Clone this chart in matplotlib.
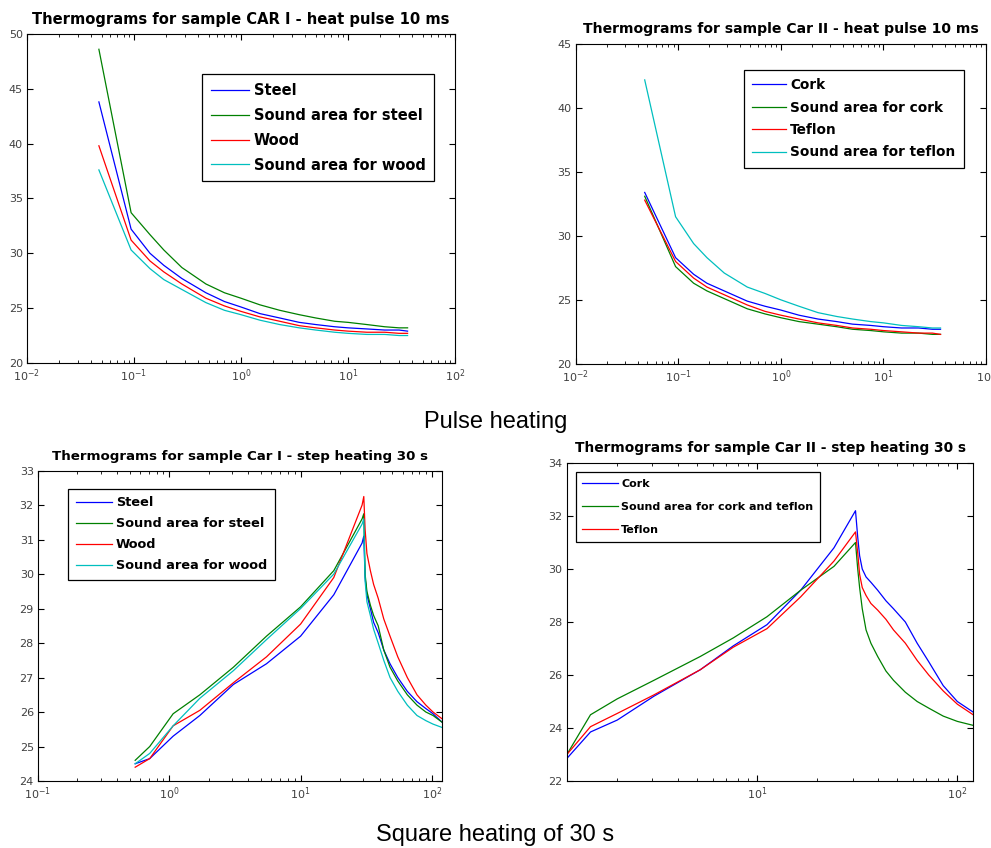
import numpy as np
import matplotlib.pyplot as plt

plt.rcParams['font.family'] = 'DejaVu Sans'
plt.rcParams['mathtext.default'] = 'regular'

# ---- pulse heating, sample CAR I ----
t_pulse = [0.047, 0.094, 0.141, 0.19, 0.28, 0.47, 0.7, 1.0, 1.5, 2.3, 3.5, 5, 7.5, 10, 15, 22, 30, 36]
car1_steel = [43.8, 32.2, 30.0, 28.9, 27.7, 26.4, 25.6, 25.1, 24.5, 24.1, 23.7, 23.5, 23.3, 23.2, 23.1, 23.0, 23.0, 22.9]
car1_sound_steel = [48.6, 33.7, 31.7, 30.3, 28.7, 27.2, 26.4, 25.9, 25.3, 24.8, 24.4, 24.1, 23.8, 23.7, 23.5, 23.3, 23.2, 23.2]
car1_wood = [39.8, 31.2, 29.3, 28.3, 27.2, 25.9, 25.2, 24.7, 24.2, 23.8, 23.4, 23.2, 23.0, 22.9, 22.8, 22.8, 22.7, 22.7]
car1_sound_wood = [37.6, 30.3, 28.6, 27.6, 26.7, 25.5, 24.8, 24.4, 23.9, 23.5, 23.2, 23.0, 22.8, 22.7, 22.6, 22.6, 22.5, 22.5]

# ---- pulse heating, sample CAR II ----
car2_cork = [33.4, 28.3, 27.0, 26.3, 25.7, 24.9, 24.5, 24.2, 23.8, 23.5, 23.3, 23.1, 23.0, 22.9, 22.8, 22.8, 22.7, 22.7]
car2_sound_cork = [33.1, 27.6, 26.3, 25.7, 25.1, 24.3, 23.9, 23.6, 23.3, 23.1, 22.9, 22.7, 22.6, 22.5, 22.4, 22.4, 22.3, 22.3]
car2_teflon = [32.8, 28.0, 26.7, 26.0, 25.4, 24.6, 24.1, 23.8, 23.5, 23.2, 23.0, 22.8, 22.7, 22.6, 22.5, 22.4, 22.4, 22.3]
car2_sound_teflon = [42.2, 31.5, 29.4, 28.3, 27.1, 26.0, 25.5, 25.0, 24.5, 24.0, 23.7, 23.5, 23.3, 23.2, 23.0, 22.9, 22.8, 22.8]

# ---- step heating 30 s, sample Car I ----
t_step1 = [0.55, 0.71, 1.07, 1.71, 3.08, 5.5, 10.0, 17.9, 29.4, 30.3, 31, 32, 34, 36,
           39, 43, 48, 55, 65, 77, 90, 102, 120]
step1_steel = [24.5, 24.65, 25.3, 25.9, 26.8, 27.4, 28.2, 29.4, 30.9, 31.1, 29.9, 29.4, 29.0, 28.6,
               28.3, 27.8, 27.4, 27.0, 26.6, 26.3, 26.1, 25.95, 25.7]
step1_sound_steel = [24.6, 25.0, 25.95, 26.5, 27.3, 28.2, 29.05, 30.1, 31.6, 31.75, 30.0, 29.5, 29.1, 28.8,
                     28.5, 27.8, 27.3, 26.9, 26.5, 26.2, 26.0, 25.9, 25.7]
step1_wood = [24.4, 24.65, 25.6, 26.05, 26.85, 27.6, 28.55, 29.9, 32.0, 32.25, 31.3, 30.6, 30.1, 29.7,
              29.3, 28.7, 28.2, 27.6, 27.0, 26.5, 26.2, 26.0, 25.8]
step1_sound_wood = [24.5, 24.8, 25.6, 26.4, 27.2, 28.1, 29.0, 30.0, 31.45, 31.6, 29.8, 29.2, 28.8, 28.4,
                    28.0, 27.5, 27.0, 26.6, 26.2, 25.9, 25.75, 25.65, 25.55]

# ---- step heating 30 s, sample Car II ----
t_step2 = [1.12, 1.47, 2.0, 3.05, 5.2, 7.6, 11.2, 16.5, 24.2, 31.0, 31.8, 32.5, 33.5, 35,
           37, 40, 44, 48, 55, 63, 72, 85, 100, 120]
step2_cork = [22.85, 23.85, 24.3, 25.2, 26.2, 27.1, 27.9, 29.2, 30.8, 32.2, 31.2, 30.5, 30.0, 29.7,
              29.5, 29.2, 28.8, 28.5, 28.0, 27.2, 26.5, 25.6, 25.0, 24.6]
step2_sound = [23.0, 24.5, 25.1, 25.8, 26.7, 27.4, 28.2, 29.2, 30.1, 31.0, 30.0, 29.3, 28.5, 27.7,
               27.2, 26.7, 26.15, 25.8, 25.35, 25.0, 24.75, 24.45, 24.25, 24.1]
step2_teflon = [23.0, 24.05, 24.55, 25.25, 26.2, 27.05, 27.75, 28.95, 30.3, 31.4, 30.6, 29.8, 29.3, 29.0,
                28.7, 28.45, 28.1, 27.7, 27.2, 26.55, 26.0, 25.4, 24.9, 24.5]

BLUE = (0, 0, 1)
GREEN = (0, 0.5, 0)
RED = (1, 0, 0)
CYAN = (0, 0.75, 0.75)


def style_axes(ax):
    ax.set_xscale('log')
    ax.tick_params(which='both', direction='in', top=True, right=True,
                   labelsize=8, labelcolor='0.25', pad=3)
    ax.tick_params(which='major', length=4, width=0.8)
    ax.tick_params(which='minor', length=2.5, width=0.6)
    for s in ax.spines.values():
        s.set_linewidth(0.8)


def add_legend(ax, anchor, size, hlen, spacing):
    leg = ax.legend(loc='upper left', bbox_to_anchor=anchor, prop={'weight': 'bold', 'size': size},
                    frameon=True, fancybox=False, framealpha=1, edgecolor='black',
                    handlelength=hlen, handletextpad=0.3, labelspacing=spacing,
                    borderpad=0.6, borderaxespad=0)
    leg.get_frame().set_linewidth(0.9)
    return leg


fig = plt.figure(figsize=(9.91, 8.48), dpi=100)

# top left
ax1 = fig.add_axes([0.0272, 0.572, 0.432, 0.388])
style_axes(ax1)
ax1.plot(t_pulse, car1_steel, color=BLUE, lw=0.9, label='Steel')
ax1.plot(t_pulse, car1_sound_steel, color=GREEN, lw=0.9, label='Sound area for steel')
ax1.plot(t_pulse, car1_wood, color=RED, lw=0.9, label='Wood')
ax1.plot(t_pulse, car1_sound_wood, color=CYAN, lw=0.9, label='Sound area for wood')
ax1.set_xlim(1e-2, 1e2)
ax1.set_ylim(20, 50)
ax1.set_yticks(np.arange(20, 51, 5))
ax1.set_title('Thermograms for sample CAR I - heat pulse 10 ms', fontsize=10.6, fontweight='bold', pad=7)
add_legend(ax1, (0.41, 0.878), 10.5, 2.6, 0.68)

# top right
ax2 = fig.add_axes([0.581, 0.571, 0.414, 0.377])
style_axes(ax2)
ax2.plot(t_pulse, car2_cork, color=BLUE, lw=0.9, label='Cork')
ax2.plot(t_pulse, car2_sound_cork, color=GREEN, lw=0.9, label='Sound area for cork')
ax2.plot(t_pulse, car2_teflon, color=RED, lw=0.9, label='Teflon')
ax2.plot(t_pulse, car2_sound_teflon, color=CYAN, lw=0.9, label='Sound area for teflon')
ax2.set_xlim(1e-2, 1e2)
ax2.set_ylim(20, 45)
ax2.set_yticks(np.arange(20, 46, 5))
ax2.set_title('Thermograms for sample Car II - heat pulse 10 ms', fontsize=10.1, fontweight='bold', pad=8)
add_legend(ax2, (0.41, 0.919), 9.8, 2.5, 0.62)

# bottom left
ax3 = fig.add_axes([0.0383, 0.079, 0.408, 0.366])
style_axes(ax3)
ax3.plot(t_step1, step1_steel, color=BLUE, lw=0.9, label='Steel')
ax3.plot(t_step1, step1_sound_steel, color=GREEN, lw=0.9, label='Sound area for steel')
ax3.plot(t_step1, step1_wood, color=RED, lw=0.9, label='Wood')
ax3.plot(t_step1, step1_sound_wood, color=CYAN, lw=0.9, label='Sound area for wood')
ax3.set_xlim(1e-1, 120)
ax3.set_ylim(24, 33)
ax3.set_yticks(np.arange(24, 34, 1))
ax3.set_title('Thermograms for sample Car I - step heating 30 s', fontsize=9.6, fontweight='bold', pad=8)
add_legend(ax3, (0.074, 0.942), 9.3, 2.8, 0.62)

# bottom right
ax4 = fig.add_axes([0.572, 0.079, 0.410, 0.375])
style_axes(ax4)
ax4.plot(t_step2, step2_cork, color=BLUE, lw=0.9, label='Cork')
ax4.plot(t_step2, step2_sound, color=GREEN, lw=0.9, label='Sound area for cork and teflon')
ax4.plot(t_step2, step2_teflon, color=RED, lw=0.9, label='Teflon')
ax4.set_xlim(1.12, 120)
ax4.set_ylim(22, 34)
ax4.set_yticks(np.arange(22, 35, 2))
ax4.set_title('Thermograms for sample Car II - step heating 30 s', fontsize=9.9, fontweight='bold', pad=8)
add_legend(ax4, (0.022, 0.972), 8, 3.2, 1.2)

fig.text(0.5, 1 - 422 / 848, 'Pulse heating', ha='center', va='center',
         fontsize=17, family='Liberation Sans')
fig.text(0.5, 1 - 835 / 848, 'Square heating of 30 s', ha='center', va='center',
         fontsize=17, family='Liberation Sans')

fig.savefig('out.png', dpi=100)
